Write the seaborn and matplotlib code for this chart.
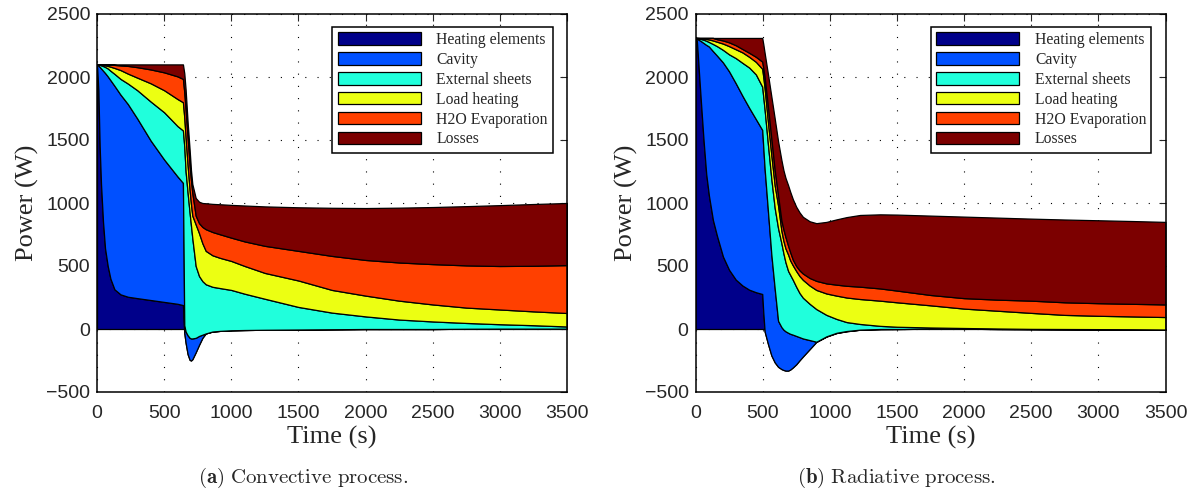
import matplotlib
matplotlib.use('Agg')
import matplotlib.pyplot as plt
from matplotlib.patches import Patch
import numpy as np
import seaborn as sns

# layer names and MATLAB "jet"-like colours
LABELS = ['Heating elements', 'Cavity', 'External sheets', 'Load heating', 'H2O Evaporation', 'Losses']
COLORS = ['#00008a', '#0050ff', '#20ffdc', '#ecff12', '#ff4000', '#7c0000']

# (a) convective process -- upper edge of each stacked layer (W)
conv_time = [0, 10, 20, 30, 45, 60, 80, 100, 130, 175, 230, 300, 400, 500, 600, 640, 650, 660, 675, 690,
             700, 710, 735, 760, 785, 810, 860, 915, 1000, 1100, 1250, 1500, 1750, 2000, 2250, 2500, 2750,
             3000, 3250, 3500]
conv_heating = [2100, 1900, 1450, 1150, 850, 640, 500, 400, 315, 275, 256, 245, 230, 215, 200, 190, -30, -110,
                -200, -245, -250, -240, -185, -125, -70, -35, -20, -15, -10, -8, -6, -4, -2, 0, 0, 0, 2,
                3, 3, 3]
conv_cavity = [2100, 2092, 2080, 2068, 2050, 2032, 2005, 1975, 1930, 1860, 1785, 1670, 1495, 1345, 1210, 1160,
               30, -20, -50, -70, -75, -75, -70, -55, -45, -35, -20, -15, -10, -8, -6, -4, -2, 0, 0, 0, 2,
               3, 3, 3]
conv_external = [2100, 2099, 2097, 2093, 2087, 2080, 2068, 2050, 2025, 1985, 1948, 1895, 1805, 1720, 1610, 1576,
                 1450, 1250, 1080, 920, 820, 720, 500, 420, 380, 355, 335, 325, 310, 280, 240, 175, 130, 100, 75,
                 60, 48, 38, 30, 20]
conv_load = [2100, 2100, 2099, 2098, 2096, 2093, 2088, 2082, 2072, 2055, 2027, 1995, 1950, 1895, 1825, 1800,
             1680, 1520, 1300, 1100, 990, 900, 830, 760, 680, 620, 585, 565, 540, 500, 445, 385, 310, 265, 225,
             195, 170, 155, 140, 127]
conv_h2o = [2100, 2100, 2100, 2100, 2100, 2100, 2099, 2098, 2096, 2092, 2088, 2078, 2060, 2037, 2005, 1985,
            1880, 1740, 1520, 1300, 1180, 1080, 900, 840, 810, 792, 770, 752, 725, 695, 660, 620, 580, 548, 528,
            515, 505, 500, 502, 507]
conv_losses = [2100, 2100, 2100, 2100, 2100, 2100, 2100, 2100, 2100, 2100, 2100, 2100, 2100, 2100, 2100, 2100,
               2030, 1900, 1640, 1420, 1260, 1150, 1040, 1010, 1000, 998, 993, 990, 985, 980, 973, 966, 962, 960,
               963, 968, 975, 983, 992, 1000]

# (b) radiative process
rad_time = [0, 10, 25, 40, 60, 80, 100, 130, 160, 205, 250, 300, 350, 400, 450, 497, 505, 515, 540, 565, 590,
            615, 640, 655, 670, 690, 705, 725, 750, 775, 800, 850, 900, 975, 1050, 1125, 1225, 1375, 1500, 1750,
            2000, 2250, 2500, 2750, 3000, 3250, 3500]
rad_heating = [2310, 2290, 2050, 1810, 1500, 1230, 1060, 865, 740, 574, 470, 392, 345, 312, 292, 278, 130, -20,
               -120, -210, -265, -300, -318, -325, -330, -330, -322, -305, -280, -248, -218, -160, -102, -60,
               -32, -18, -6, -1, 0, 2, 2, 0, -1, -2, -3, -4, -5]
rad_cavity = [2310, 2305, 2295, 2285, 2270, 2255, 2242, 2205, 2170, 2115, 2045, 1950, 1850, 1755, 1665, 1580,
              1440, 1270, 930, 590, 320, 65, 15, -5, -18, -30, -38, -45, -55, -65, -75, -88, -101, -58,
              -30, -16, -5, 0, 0, 2, 2, 0, -1, -2, -3, -4, -5]
rad_external = [2310, 2309, 2306, 2302, 2296, 2288, 2278, 2262, 2245, 2215, 2180, 2150, 2112, 2075, 2020, 1923,
                1840, 1740, 1460, 1190, 960, 800, 680, 600, 530, 460, 430, 390, 335, 285, 248, 200, 158, 112, 80,
                55, 40, 25, 18, 12, 8, 4, 1, 0, -1, -2, -4]
rad_load = [2310, 2310, 2309, 2308, 2306, 2302, 2298, 2290, 2280, 2265, 2245, 2220, 2195, 2160, 2120, 2065,
            2000, 1910, 1640, 1380, 1140, 980, 780, 700, 640, 590, 545, 505, 460, 420, 390, 345, 310, 282, 265,
            250, 238, 225, 212, 188, 162, 145, 128, 112, 105, 100, 95]
rad_h2o = [2310, 2310, 2310, 2310, 2310, 2310, 2310, 2310, 2300, 2290, 2275, 2252, 2222, 2192, 2160, 2122,
           2070, 2000, 1760, 1510, 1260, 1060, 860, 790, 730, 660, 610, 550, 500, 465, 440, 405, 382, 362, 352,
           343, 336, 322, 305, 270, 245, 233, 225, 212, 205, 200, 195]
rad_losses = [2310, 2310, 2310, 2310, 2310, 2310, 2310, 2310, 2310, 2310, 2310, 2310, 2310, 2310, 2310, 2310,
              2260, 2190, 2020, 1845, 1670, 1490, 1340, 1260, 1200, 1140, 1090, 1030, 970, 925, 890, 855, 840,
              850, 870, 888, 905, 910, 908, 900, 892, 884, 876, 869, 863, 857, 850]

CAPTIONS = [r'$\mathbf{(a)}\ \mathrm{Convective\ process.}$', r'$\mathbf{(b)}\ \mathrm{Radiative\ process.}$']


def stacked_area(ax, time, tops):
    # MATLAB-style area: each layer filled between the previous cumulative edge and its own,
    # later layers painted over earlier ones
    prev = np.zeros(len(time))
    for top, color in zip(tops, COLORS):
        top = np.asarray(top, dtype=float)
        ax.fill_between(time, prev, top, facecolor=color, edgecolor='black', linewidth=0.9)
        prev = top


def style_axes(ax):
    ax.set_xlim(0, 3500)
    ax.set_ylim(-500, 2500)
    ax.set_xticks(np.arange(0, 3501, 500))
    ax.set_yticks(np.arange(-500, 2501, 500))
    ax.grid(True, color='black', linestyle=(0, (1, 10)), linewidth=0.8)
    ax.set_axisbelow(True)
    ax.tick_params(direction='in', length=5, width=0.8, top=True, right=True, labelsize=14)
    ax.tick_params(axis='x', pad=9)
    ax.tick_params(axis='y', pad=5)
    for lab in ax.get_xticklabels() + ax.get_yticklabels():
        lab.set_family('Liberation Sans')
    for sp in ax.spines.values():
        sp.set_color('black')
        sp.set_linewidth(1.1)
    ax.set_xlabel('Time (s)', family='Liberation Serif', fontsize=19, labelpad=3)
    ax.set_ylabel('Power (W)', family='Liberation Serif', fontsize=19, labelpad=5)
    handles = [Patch(facecolor=c, edgecolor='black', linewidth=0.9) for c in COLORS]
    leg = ax.legend(handles, LABELS, loc='upper right', bbox_to_anchor=(0.97, 0.966), borderaxespad=0,
                    prop={'family': 'Liberation Serif', 'size': 11.3}, frameon=True, fancybox=False,
                    framealpha=1, edgecolor='black', handlelength=5.3, handleheight=0.85,
                    labelspacing=0.25, borderpad=0.32, handletextpad=1.0)
    leg.get_frame().set_linewidth(1.1)


def main():
    sns.set_style('white')
    plt.rcParams['mathtext.fontset'] = 'cm'
    fig = plt.figure(figsize=(11.98, 4.95), dpi=100)
    ax1 = fig.add_axes([97 / 1198, 1 - 392 / 495, 470 / 1198, 378 / 495])
    ax2 = fig.add_axes([695.5 / 1198, 1 - 392 / 495, 470 / 1198, 378 / 495])

    stacked_area(ax1, conv_time, [conv_heating, conv_cavity, conv_external, conv_load, conv_h2o, conv_losses])
    stacked_area(ax2, rad_time, [rad_heating, rad_cavity, rad_external, rad_load, rad_h2o, rad_losses])
    style_axes(ax1)
    style_axes(ax2)

    fig.text(303 / 1198, 1 - 478 / 495, CAPTIONS[0], ha='center', va='center', fontsize=15)
    fig.text(896 / 1198, 1 - 478 / 495, CAPTIONS[1], ha='center', va='center', fontsize=15)

    fig.savefig('out.png', dpi=100)


if __name__ == '__main__':
    main()
